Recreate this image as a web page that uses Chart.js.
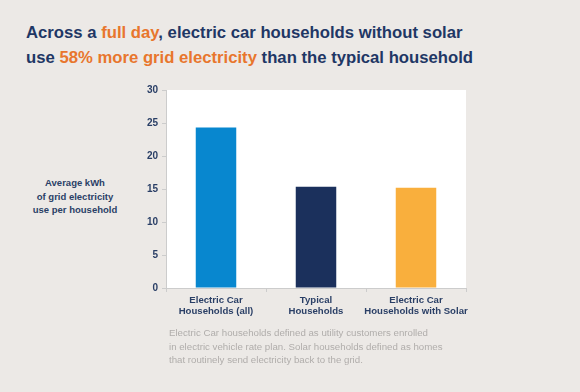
<!DOCTYPE html>
<html>
<head>
<meta charset="utf-8">
<script src="https://cdn.jsdelivr.net/npm/chart.js@4"></script>
<style>
    html, body { margin: 0; padding: 0; }
    body {
        width: 580px;
        height: 392px;
        background: #ece9e6;
        position: relative;
        overflow: hidden;
        font-family: "Liberation Sans", Arial, sans-serif;
    }
    #chart { position: absolute; left: 0; top: 0; }
    .title {
        position: absolute;
        left: 26px;
        top: 20px;
        font-size: 16.7px;
        font-weight: bold;
        line-height: 25px;
        color: #1f3765;
        white-space: nowrap;
    }
    .title .hl { color: #e8762d; }
    .ytitle {
        position: absolute;
        left: 25px;
        width: 100px;
        top: 176px;
        text-align: center;
        font-size: 9.5px;
        font-weight: bold;
        line-height: 13.5px;
        color: #2a3f66;
    }
    .note {
        position: absolute;
        left: 169px;
        top: 326px;
        font-size: 9.7px;
        line-height: 13.5px;
        color: #b0adab;
        white-space: nowrap;
    }
</style>
</head>
<body>
<div class="title">Across a <span class="hl">full day</span>, electric car households without solar<br>use <span class="hl">58% more grid electricity</span> than the typical household</div>
<div class="ytitle">Average kWh<br>of grid electricity<br>use per household</div>
<canvas id="chart" width="580" height="392"></canvas>
<div class="note">Electric Car households defined as utility customers enrolled<br>in electric vehicle rate plan. Solar households defined as homes<br>that routinely send electricity back to the grid.</div>
<script>
document.addEventListener('DOMContentLoaded', function() {
    // chart data
    const categories = [
        ['Electric Car', 'Households (all)'],
        ['Typical', 'Households'],
        ['Electric Car', 'Households with Solar']
    ];
    const kwhValues = [24.3, 15.35, 15.2];
    const barColors = ['#0887cf', '#1b305c', '#f9af3d'];
    const yTicks = [0, 5, 10, 15, 20, 25, 30];

    // white plot background
    const plotBackground = {
        id: 'plotBackground',
        beforeDraw(chart) {
            const a = chart.chartArea;
            const ctx = chart.ctx;
            ctx.save();
            ctx.fillStyle = '#ffffff';
            ctx.fillRect(a.left, a.top, a.right - a.left, a.bottom - a.top);
            ctx.restore();
        }
    };

    const ctx = document.getElementById('chart').getContext('2d');
    new Chart(ctx, {
        type: 'bar',
        data: {
            labels: categories,
            datasets: [{
                data: kwhValues,
                backgroundColor: barColors,
                borderWidth: 0,
                barPercentage: 0.81,
                categoryPercentage: 0.5
            }]
        },
        options: {
            responsive: false,
            animation: false,
            layout: { padding: { left: 126, right: 114, top: 90, bottom: 64 } },
            plugins: {
                legend: { display: false },
                tooltip: { enabled: false }
            },
            scales: {
                y: {
                    min: 0,
                    max: 30,
                    afterFit(scale) { scale.width = 40; },
                    afterBuildTicks(scale) {
                        scale.ticks = yTicks.map(v => ({ value: v }));
                    },
                    border: { color: '#cccccc', width: 1 },
                    grid: {
                        drawOnChartArea: false,
                        drawTicks: true,
                        tickLength: 4,
                        color: '#cccccc'
                    },
                    ticks: {
                        padding: 4,
                        color: '#2a3f66',
                        font: { family: 'Liberation Sans', size: 10, weight: 'bold' }
                    }
                },
                x: {
                    afterFit(scale) { scale.height = 40; },
                    border: { color: '#cccccc', width: 1 },
                    grid: {
                        offset: true,
                        drawOnChartArea: false,
                        drawTicks: true,
                        tickLength: 4,
                        color: '#cccccc'
                    },
                    ticks: {
                        autoSkip: false,
                        padding: 2,
                        maxRotation: 0,
                        color: '#2a3f66',
                        font: { family: 'Liberation Sans', size: 9.6, weight: 'bold', lineHeight: 1.22 }
                    }
                }
            }
        },
        plugins: [plotBackground]
    });
});
</script>
</body>
</html>
